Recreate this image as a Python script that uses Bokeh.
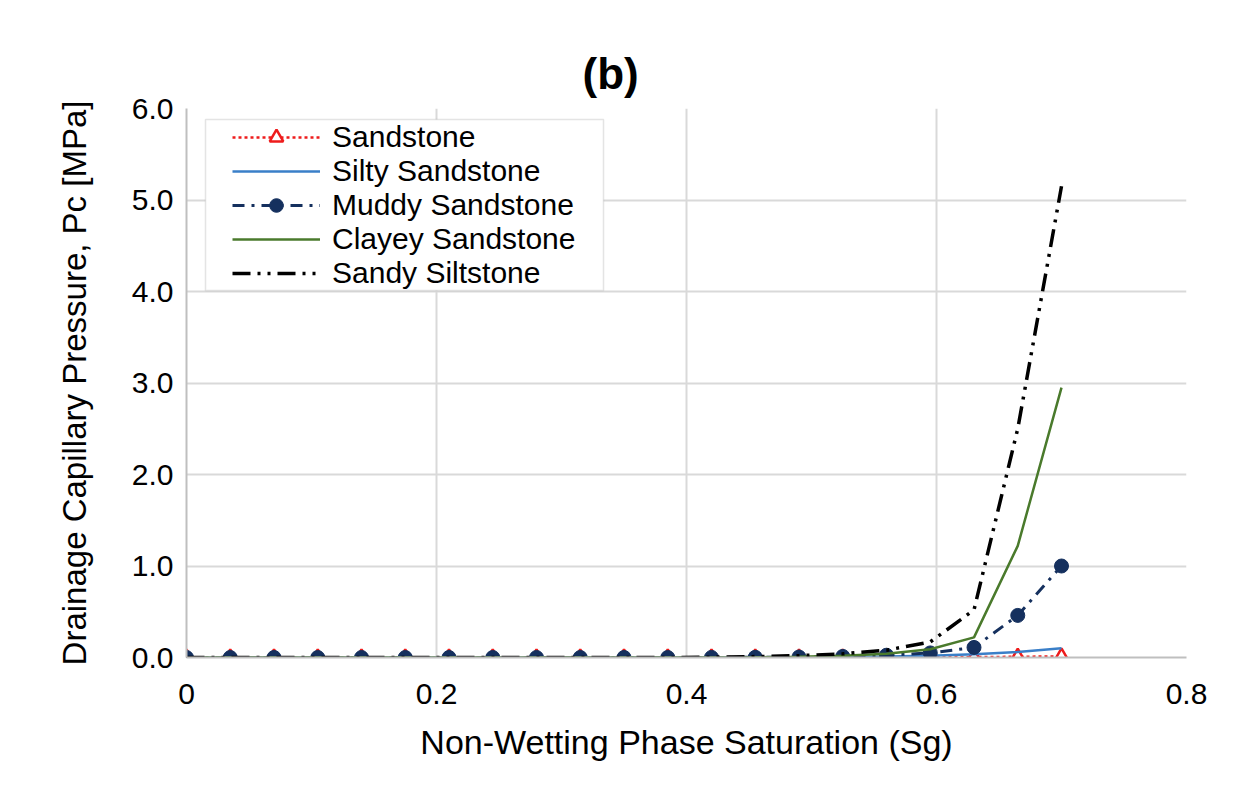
from bokeh.plotting import figure
from bokeh.models import (Legend, LegendItem, BoxAnnotation, FixedTicker,
                          PrintfTickFormatter, CustomJSTickFormatter, Range1d, Title)
from bokeh.embed import file_html
from bokeh.resources import INLINE

# ---- data ----
sg = [0.0, 0.035, 0.07, 0.105, 0.14, 0.175, 0.21, 0.245, 0.28, 0.315, 0.35,
      0.385, 0.42, 0.455, 0.49, 0.525, 0.56, 0.595, 0.63, 0.665, 0.70]
sandstone = [0, 0, 0, 0, 0, 0, 0, 0, 0, 0, 0,
             0, 0, 0, 0, 0.0, 0.001, 0.002, 0.004, 0.008, 0.012]
silty_sandstone = [0, 0, 0, 0, 0, 0, 0, 0, 0, 0, 0,
                   0, 0, 0, 0.002, 0.005, 0.01, 0.018, 0.035, 0.06, 0.10]
muddy_sandstone = [0, 0, 0, 0, 0, 0, 0, 0, 0, 0, 0,
                   0, 0.001, 0.002, 0.005, 0.012, 0.025, 0.05, 0.11, 0.46, 1.00]
clayey_sandstone = [0, 0, 0, 0, 0, 0, 0, 0, 0, 0, 0,
                    0, 0.001, 0.003, 0.008, 0.02, 0.04, 0.09, 0.22, 1.22, 2.95]
sandy_siltstone = [0, 0, 0, 0, 0, 0, 0, 0, 0, 0, 0,
                   0, 0.004, 0.01, 0.02, 0.04, 0.08, 0.17, 0.52, 2.50, 5.15]

x_ticks = [0, 0.2, 0.4, 0.6, 0.8]
y_ticks = [0, 1, 2, 3, 4, 5, 6]

FONT = "Liberation Sans"

p = figure(width=1236, height=787, output_backend="svg", toolbar_location=None,
           x_range=Range1d(0, 0.8), y_range=Range1d(0, 6),
           min_border_left=186, min_border_right=50, min_border_top=108,
           min_border_bottom=130)
p.outline_line_color = None
p.background_fill_color = "white"
p.border_fill_color = "white"

title = Title(text="(b)", align="left", offset=396, text_font=FONT,
              text_font_size="44px", text_font_style="bold", text_color="black",
              standoff=22)
p.add_layout(title, "above")

# axes
p.xaxis.ticker = FixedTicker(ticks=x_ticks)
p.yaxis.ticker = FixedTicker(ticks=y_ticks)
p.yaxis.formatter = PrintfTickFormatter(format="%.1f")
p.xaxis.formatter = CustomJSTickFormatter(code="return tick == 0 ? '0' : tick.toFixed(1);")
for ax in (p.xaxis[0], p.yaxis[0]):
    ax.axis_line_color = "#bfbfbf"
    ax.axis_line_width = 2
    ax.major_tick_line_color = None
    ax.minor_tick_line_color = None
    ax.major_tick_out = 0
    ax.major_tick_in = 0
    ax.minor_tick_out = 0
    ax.minor_tick_in = 0
    ax.major_label_text_font = FONT
    ax.major_label_text_font_size = "30px"
    ax.major_label_text_color = "black"
    ax.axis_label_text_font = FONT
    ax.axis_label_text_font_style = "normal"
    ax.axis_label_text_color = "black"
p.xaxis.axis_label_text_font_size = "34px"
p.yaxis.axis_label_text_font_size = "33px"
p.xaxis.axis_label = "Non-Wetting Phase Saturation (Sg)"
p.yaxis.axis_label = "Drainage Capillary Pressure, Pc [MPa]"
p.yaxis.major_label_standoff = 13
p.xaxis.major_label_standoff = 26
p.yaxis.axis_label_standoff = 36
p.xaxis.axis_label_standoff = 16

p.xgrid.grid_line_color = "#d9d9d9"
p.ygrid.grid_line_color = "#d9d9d9"
p.xgrid.grid_line_width = 2
p.ygrid.grid_line_width = 2

# legend box
box = BoxAnnotation(left=0.0152, right=0.3336, top=5.88, bottom=4.01,
                    fill_color="white", fill_alpha=1.0,
                    line_color="#a6a6a6", line_width=1.5, level="annotation")
p.add_layout(box)

RED = "#ee1c1c"
BLUE = "#3a7fc8"
NAVY = "#15305e"
GREEN = "#4a7a2c"
BLACK = "#000000"

r1 = p.line(sg, sandstone, line_color=RED, line_width=2.5, line_dash="3 3")
r1m = p.scatter(sg, sandstone, marker="triangle", size=14, line_color=RED,
                fill_color="white", line_width=2.5)
r2 = p.line(sg, silty_sandstone, line_color=BLUE, line_width=2.5)
r3 = p.line(sg, muddy_sandstone, line_color=NAVY, line_width=3, line_dash="12 7 3 7")
r3m = p.scatter(sg, muddy_sandstone, marker="circle", size=14, line_color=NAVY,
                fill_color=NAVY)
r4 = p.line(sg, clayey_sandstone, line_color=GREEN, line_width=2.5)
r5 = p.line(sg, sandy_siltstone, line_color=BLACK, line_width=3.5,
            line_dash="18 7 3 7 3 7")

legend = Legend(items=[
    LegendItem(label="Sandstone", renderers=[r1, r1m]),
    LegendItem(label="Silty Sandstone", renderers=[r2]),
    LegendItem(label="Muddy Sandstone", renderers=[r3, r3m]),
    LegendItem(label="Clayey Sandstone", renderers=[r4]),
    LegendItem(label="Sandy Siltstone", renderers=[r5]),
], location=(46, 367), padding=0, margin=0, spacing=0,
    glyph_width=88, glyph_height=34, label_height=34, label_standoff=12,
    label_text_font=FONT, label_text_font_size="30px", label_text_color="black",
    border_line_alpha=0, background_fill_alpha=0)
p.add_layout(legend)

open("out.html", "w").write(file_html(p, INLINE))
